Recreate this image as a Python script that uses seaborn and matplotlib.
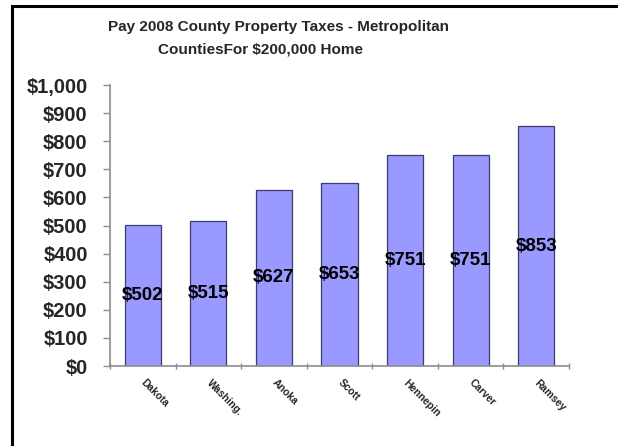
import matplotlib
matplotlib.use("Agg")
import matplotlib.pyplot as plt
import seaborn as sns
from matplotlib.patches import Rectangle
from matplotlib.ticker import FixedLocator

# Pay 2008 county property tax on a $200,000 home
counties = ["Dakota", "Washing.", "Anoka", "Scott", "Hennepin", "Carver", "Ramsey"]
taxes = [502, 515, 627, 653, 751, 751, 853]
y_ticks = [0, 100, 200, 300, 400, 500, 600, 700, 800, 900, 1000]
y_tick_labels = ["$0", "$100", "$200", "$300", "$400", "$500", "$600",
                 "$700", "$800", "$900", "$1,000"]

sns.set_theme(style="white")
plt.rcParams["font.family"] = ["Liberation Sans", "DejaVu Sans"]

W, H = 618, 446
fig = plt.figure(figsize=(W / 100, H / 100), dpi=100)
fig.patch.set_facecolor("white")

# frame lines along the left and top edges
fig.patches.append(Rectangle((12 / W, -0.1), 1.2, 1 - 6 / H + 0.1,
                             transform=fig.transFigure, fill=False,
                             edgecolor="black", linewidth=2.2))

ax = fig.add_axes([110 / W, 1 - 366 / H, (569 - 110) / W, (366 - 85) / H])

sns.barplot(x=counties, y=taxes, color="#9999FF", saturation=1,
            edgecolor="#3b3b6e", linewidth=0.9, width=0.55, ax=ax)

ax.bar_label(ax.containers[0], labels=[f"${v}" for v in taxes],
             label_type="center", fontsize=13.5, fontweight="bold",
             color="black")

ax.set_xlim(-0.5, len(counties) - 0.5)
ax.set_ylim(0, 1000)
ax.set_yticks(y_ticks)
ax.set_yticklabels(y_tick_labels, fontsize=14.5, fontweight="bold")
ax.set_xlabel("")
ax.set_ylabel("")

for side in ("top", "right"):
    ax.spines[side].set_visible(False)
for side in ("left", "bottom"):
    ax.spines[side].set_color("#8c8c8c")
    ax.spines[side].set_linewidth(1.2)

ax.tick_params(axis="y", which="major", left=True, length=5, width=1,
               color="#8c8c8c", pad=11)
# category separators on the x axis, labels at bar centres
ax.xaxis.set_minor_locator(FixedLocator([i - 0.5 for i in range(len(counties) + 1)]))
ax.tick_params(axis="x", which="minor", bottom=True, length=5, width=1,
               color="#8c8c8c", direction="inout")
ax.tick_params(axis="x", which="major", bottom=False, pad=5)
for lbl in ax.get_xticklabels():
    lbl.set_rotation(-45)
    lbl.set_rotation_mode("anchor")
    lbl.set_ha("left")
    lbl.set_va("center")
    lbl.set_fontsize(7.5)
    lbl.set_fontweight("bold")

fig.text(279 / W, 1 - 27 / H, "Pay 2008 County Property Taxes - Metropolitan",
         ha="center", va="center", fontsize=11, fontweight="bold")
fig.text(260 / W, 1 - 50 / H, "CountiesFor $200,000 Home",
         ha="center", va="center", fontsize=11, fontweight="bold")

fig.savefig("out.png", dpi=100, facecolor="white")
